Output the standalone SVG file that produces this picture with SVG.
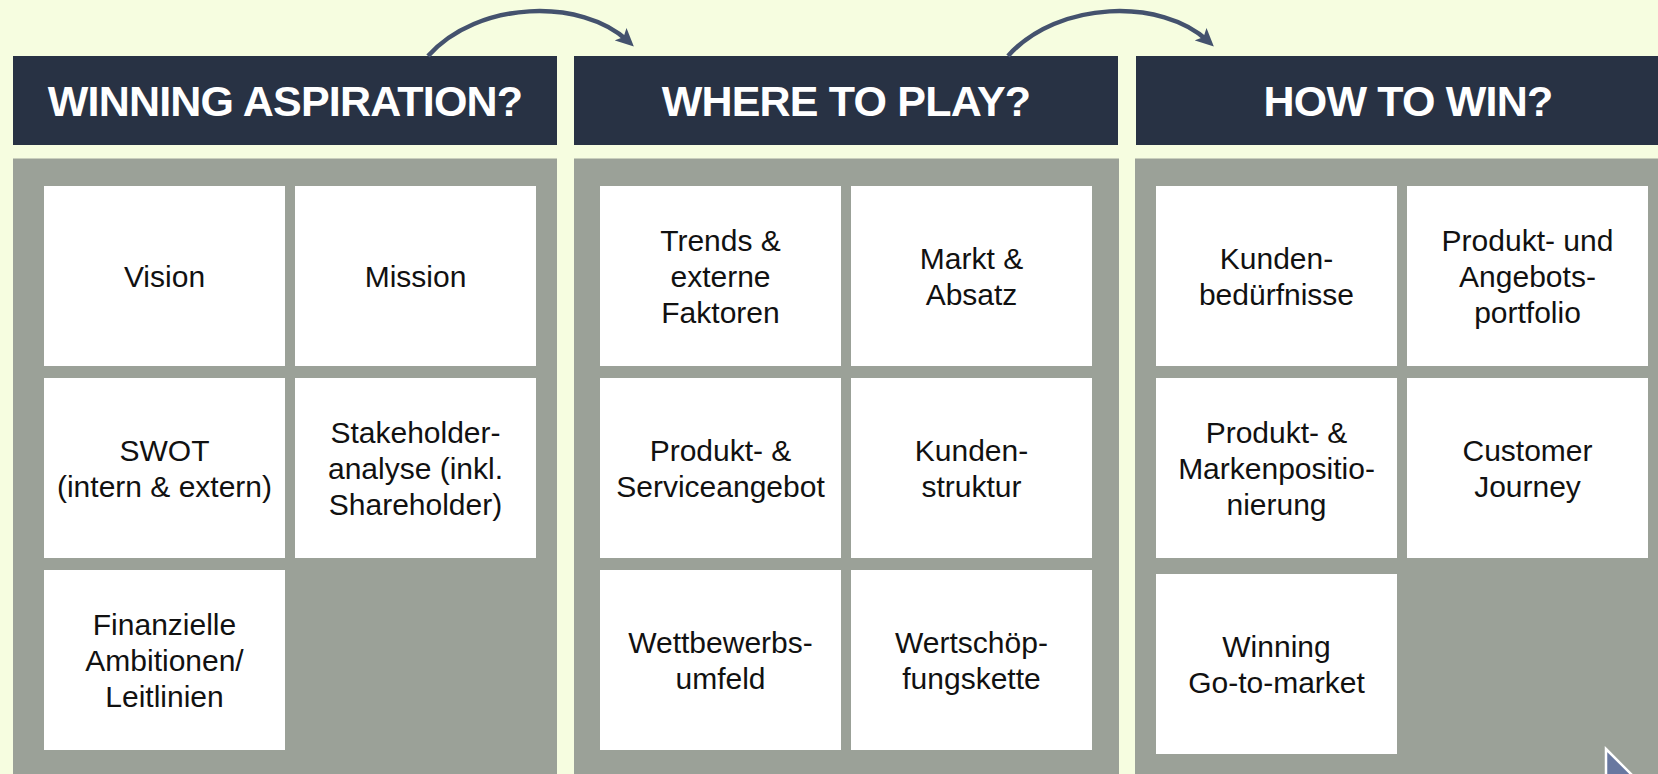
<svg xmlns="http://www.w3.org/2000/svg" width="1658" height="774" viewBox="0 0 1658 774">
<defs>
<style>
.panel{fill:#9BA198}
.hdr{fill:#283244}
.box{fill:#FFFFFF}
.ht{font-family:"Liberation Sans",Arial,sans-serif;font-weight:bold;font-size:43px;fill:#FFFFFF;text-anchor:middle;letter-spacing:-0.8px}
.bt{font-family:"Liberation Sans",Arial,sans-serif;font-size:30px;fill:#111111;text-anchor:middle}
.arrow{fill:none;stroke:#44526E;stroke-width:4.5}
</style>
<marker id="ah" markerUnits="userSpaceOnUse" viewBox="0 0 18 17" markerWidth="18" markerHeight="17" refX="10" refY="8.5" orient="auto">
<path d="M0,0 L18,8.5 L0,17 L4,8.5 z" fill="#44526E"/>
</marker>
</defs>
<rect x="0" y="0" width="1658" height="774" fill="#F6FDE0"/>

<g id="col1">
<rect class="panel" x="13" y="158.5" width="544" height="620"/>
<g id="h1"><rect class="hdr" x="13" y="56" width="544" height="89"/><text class="ht" x="285" y="116">WINNING ASPIRATION?</text></g>
<g id="n-vision"><rect class="box" x="44" y="186" width="241" height="180"/><text class="bt" x="164.5" y="286.7">Vision</text></g>
<g id="n-mission"><rect class="box" x="295" y="186" width="241" height="180"/><text class="bt" x="415.5" y="286.7">Mission</text></g>
<g id="n-swot"><rect class="box" x="44" y="378" width="241" height="180"/><text class="bt" x="164.5" y="460.7">SWOT</text><text class="bt" x="164.5" y="496.7">(intern &amp; extern)</text></g>
<g id="n-stakeholder"><rect class="box" x="295" y="378" width="241" height="180"/><text class="bt" x="415.5" y="442.7">Stakeholder-</text><text class="bt" x="415.5" y="478.7">analyse (inkl.</text><text class="bt" x="415.5" y="514.7">Shareholder)</text></g>
<g id="n-finanz"><rect class="box" x="44" y="570" width="241" height="180"/><text class="bt" x="164.5" y="634.7">Finanzielle</text><text class="bt" x="164.5" y="670.7">Ambitionen/</text><text class="bt" x="164.5" y="706.7">Leitlinien</text></g>
</g>

<g id="col2">
<rect class="panel" x="574" y="158.5" width="545" height="620"/>
<g id="h2"><rect class="hdr" x="574" y="56" width="544" height="89"/><text class="ht" x="846" y="116">WHERE TO PLAY?</text></g>
<g id="n-trends"><rect class="box" x="600" y="186" width="241" height="180"/><text class="bt" x="720.5" y="250.7">Trends &amp;</text><text class="bt" x="720.5" y="286.7">externe</text><text class="bt" x="720.5" y="322.7">Faktoren</text></g>
<g id="n-markt"><rect class="box" x="851" y="186" width="241" height="180"/><text class="bt" x="971.5" y="268.7">Markt &amp;</text><text class="bt" x="971.5" y="304.7">Absatz</text></g>
<g id="n-produkt-service"><rect class="box" x="600" y="378" width="241" height="180"/><text class="bt" x="720.5" y="460.7">Produkt- &amp;</text><text class="bt" x="720.5" y="496.7">Serviceangebot</text></g>
<g id="n-kundenstruktur"><rect class="box" x="851" y="378" width="241" height="180"/><text class="bt" x="971.5" y="460.7">Kunden-</text><text class="bt" x="971.5" y="496.7">struktur</text></g>
<g id="n-wettbewerb"><rect class="box" x="600" y="570" width="241" height="180"/><text class="bt" x="720.5" y="652.7">Wettbewerbs-</text><text class="bt" x="720.5" y="688.7">umfeld</text></g>
<g id="n-wertschoepfung"><rect class="box" x="851" y="570" width="241" height="180"/><text class="bt" x="971.5" y="652.7">Wertschöp-</text><text class="bt" x="971.5" y="688.7">fungskette</text></g>
</g>

<g id="col3">
<rect class="panel" x="1135" y="158.5" width="545" height="620"/>
<g id="h3"><rect class="hdr" x="1136" y="56" width="544" height="89"/><text class="ht" x="1408" y="116">HOW TO WIN?</text></g>
<g id="n-kundenbeduerfnisse"><rect class="box" x="1156" y="186" width="241" height="180"/><text class="bt" x="1276.5" y="268.7">Kunden-</text><text class="bt" x="1276.5" y="304.7">bedürfnisse</text></g>
<g id="n-portfolio"><rect class="box" x="1407" y="186" width="241" height="180"/><text class="bt" x="1527.5" y="250.7">Produkt- und</text><text class="bt" x="1527.5" y="286.7">Angebots-</text><text class="bt" x="1527.5" y="322.7">portfolio</text></g>
<g id="n-positionierung"><rect class="box" x="1156" y="378" width="241" height="180"/><text class="bt" x="1276.5" y="442.7">Produkt- &amp;</text><text class="bt" x="1276.5" y="478.7">Markenpositio-</text><text class="bt" x="1276.5" y="514.7">nierung</text></g>
<g id="n-journey"><rect class="box" x="1407" y="378" width="241" height="180"/><text class="bt" x="1527.5" y="460.7">Customer</text><text class="bt" x="1527.5" y="496.7">Journey</text></g>
<g id="n-gotomarket"><rect class="box" x="1156" y="574" width="241" height="180"/><text class="bt" x="1276.5" y="656.7">Winning</text><text class="bt" x="1276.5" y="692.7">Go-to-market</text></g>
</g>

<g id="connectors">
<path class="arrow" d="M428,56 C478,0 582,-2 628,41" marker-end="url(#ah)"/>
<path class="arrow" d="M1008,56 C1058,0 1162,-2 1208,41" marker-end="url(#ah)"/>
</g>

<polygon points="1606,749 1641,784 1606,792" fill="#6878A0" stroke="#FFFFFF" stroke-width="2.5"/>
</svg>
